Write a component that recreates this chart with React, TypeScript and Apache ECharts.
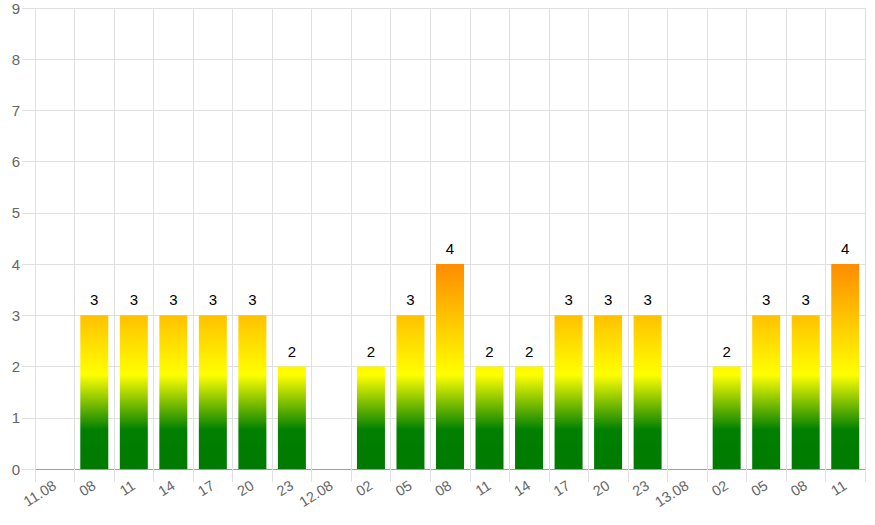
import React, { useEffect, useRef } from "react";
import * as echarts from "echarts";

const categories = [
  "11.08", "08", "11", "14", "17", "20", "23",
  "12.08", "02", "05", "08", "11", "14", "17", "20", "23",
  "13.08", "02", "05", "08", "11",
];
const values: (number | null)[] = [
  null, 3, 3, 3, 3, 3, 2,
  null, 2, 3, 4, 2, 2, 3, 3, 3,
  null, 2, 3, 3, 4,
];
const yTicks = { min: 0, max: 9, interval: 1 };

const FONT = "'Liberation Sans', Arial, sans-serif";

export default function App() {
  const ref = useRef<HTMLDivElement>(null);
  useEffect(() => {
    if (!ref.current) return;
    const chart = echarts.init(ref.current, undefined, { renderer: "svg" });
    const gridTop = 8;
    const gridBottom = 56;
    const H = 525;
    const y0 = H - gridBottom;
    const plotH = y0 - gridTop;
    const y4 = y0 - (plotH * 4) / yTicks.max;
    const gradient = new echarts.graphic.LinearGradient(
      0, y0, 0, y4,
      [
        { offset: 0, color: "#007a00" },
        { offset: 0.19, color: "#008000" },
        { offset: 0.46, color: "#ffff00" },
        { offset: 1, color: "#ff8c00" },
      ],
      true
    );
    chart.setOption({
      animation: false,
      textStyle: { fontFamily: FONT },
      grid: { left: 35, right: 10, top: gridTop, bottom: gridBottom, containLabel: false },
      xAxis: {
        type: "category",
        data: categories,
        boundaryGap: true,
        axisLine: { show: true, lineStyle: { color: "#a0a0a0", width: 1 } },
        axisTick: { show: true, length: 13, alignWithLabel: false, lineStyle: { color: "#e0e0e0" } },
        splitLine: { show: true, lineStyle: { color: "#e0e0e0" } },
        axisLabel: {
          rotate: 32,
          interval: 0,
          margin: 15,
          color: "#666",
          fontSize: 14.5,
          fontFamily: FONT,
        },
      },
      yAxis: {
        type: "value",
        min: yTicks.min,
        max: yTicks.max,
        interval: yTicks.interval,
        axisLine: { show: false },
        axisTick: { show: true, length: 13, lineStyle: { color: "#e0e0e0" } },
        splitLine: { show: true, lineStyle: { color: "#e0e0e0" } },
        axisLabel: { color: "#666", fontSize: 15, margin: 15, fontFamily: FONT },
      },
      series: [
        {
          type: "bar",
          data: values,
          barWidth: 28,
          itemStyle: { color: gradient },
          label: {
            show: true,
            position: "top",
            distance: 8,
            color: "#000",
            fontSize: 15,
            fontFamily: FONT,
          },
        },
      ],
    });
    return () => chart.dispose();
  }, []);
  return (
    <div
      ref={ref}
      style={{ position: "fixed", left: 0, top: 0, width: 875, height: 525, background: "#fff" }}
    />
  );
}
